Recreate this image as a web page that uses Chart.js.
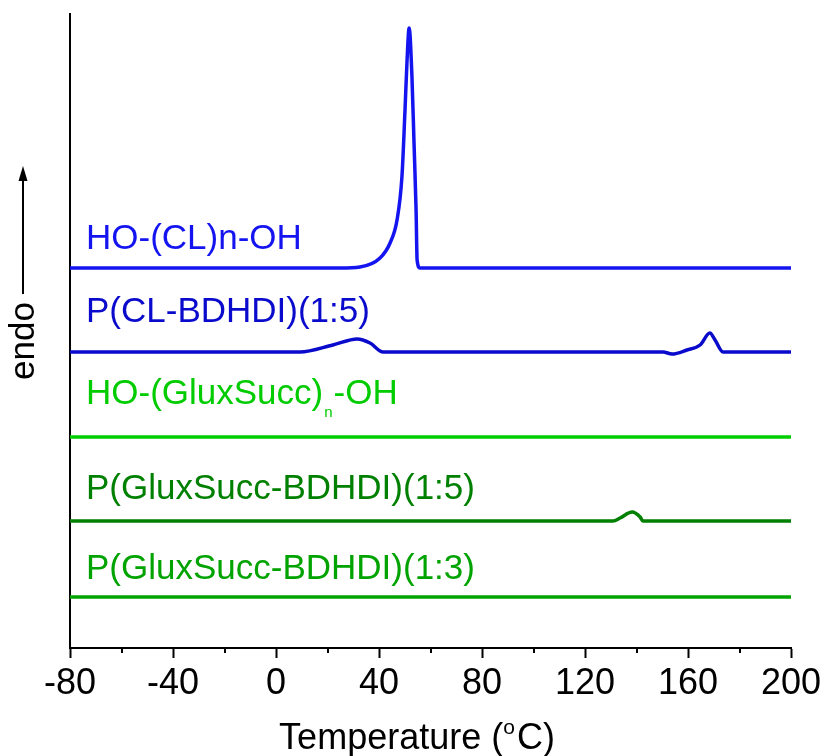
<!DOCTYPE html>
<html>
<head>
<meta charset="utf-8">
<script src="https://cdn.jsdelivr.net/npm/chart.js@4/dist/chart.umd.min.js"></script>
<style>
  html, body { margin: 0; padding: 0; background: #fff; }
  #wrap { width: 821px; height: 756px; }
</style>
</head>
<body>
<div id="wrap"><canvas id="dscChart" width="821" height="756"></canvas></div>
<script>
// temperatures (°C) and stacked heat flow (arbitrary units, offset per curve)
const tempCL = [-80, 25, 32.6, 40.4, 44.3, 47.0, 48.9, 50.1, 50.9, 51.7, 52.8, 53.6, 54.4, 54.8, 55.9, 200];
const heatCL = [380, 380, 381, 390, 405, 428, 471, 538, 588, 620, 571, 505, 438, 388, 380, 380];

const tempCLBD = [-80, 9.3, 22.1, 31.5, 36.5, 41.6, 150.3, 153.8, 159.6, 164.7, 168.5, 170.5, 173.6, 200];
const heatCLBD = [296, 296, 303, 309, 305, 296, 296, 294, 298, 303, 315, 308, 296, 296];

const tempGS = [-80, 60, 200];
const heatGS = [211, 211, 211];

const tempGSBD5 = [-80, 130.9, 133.6, 138.3, 141.4, 142.5, 200];
const heatGSBD5 = [127, 127, 130, 136, 131, 127, 127];

const tempGSBD3 = [-80, 60, 200];
const heatGSBD3 = [51, 51, 51];

const xTicks = [-80, -40, 0, 40, 80, 120, 160, 200];

function toPoints(xs, ys) {
    return xs.map(function(x, i) { return { x: x, y: ys[i] }; });
}

function lineSet(label, xs, ys, color) {
    return {
        label: label,
        data: toPoints(xs, ys),
        borderColor: color,
        borderWidth: 3.5,
        pointRadius: 0,
        cubicInterpolationMode: 'monotone',
        fill: false
    };
}

const narrow = '"Liberation Sans Narrow", "Liberation Sans", Arial, sans-serif';
const sans = '"Liberation Sans", Arial, sans-serif';

// curve labels, superscript/subscript text, minor ticks and the endo arrow
const annotations = {
    id: 'annotations',
    afterDraw: function(chart) {
        const ctx = chart.ctx;
        const xs = chart.scales.x;
        const area = chart.chartArea;
        ctx.save();

        // minor ticks
        ctx.strokeStyle = '#000';
        ctx.lineWidth = 2;
        for (let v = -60; v < 200; v += 40) {
            const px = Math.round(xs.getPixelForValue(v));
            ctx.beginPath();
            ctx.moveTo(px, area.bottom);
            ctx.lineTo(px, area.bottom + 5);
            ctx.stroke();
        }

        const lx = area.left + 16;
        ctx.textBaseline = 'alphabetic';
        ctx.textAlign = 'left';
        const lf = '35px ' + sans;
        ctx.font = lf;

        ctx.fillStyle = '#1414f0';
        ctx.fillText('HO-(CL)n-OH', lx, 249);

        ctx.fillStyle = '#0a0acc';
        ctx.fillText('P(CL-BDHDI)(1:5)', lx, 322);

        ctx.fillStyle = '#00cc00';
        let t = 'HO-(GluxSucc)';
        ctx.fillText(t, lx, 404);
        let w = ctx.measureText(t).width;
        ctx.font = '15px ' + sans;
        ctx.fillText('n', lx + w + 1, 417);
        let wn = ctx.measureText('n').width;
        ctx.font = lf;
        ctx.fillText('-OH', lx + w + wn + 2, 404);

        ctx.fillStyle = '#008000';
        ctx.fillText('P(GluxSucc-BDHDI)(1:5)', lx, 499);

        ctx.fillStyle = '#00a300';
        ctx.fillText('P(GluxSucc-BDHDI)(1:3)', lx, 579);

        // x-axis title with superscript o
        ctx.fillStyle = '#000';
        const mainFont = '36px ' + narrow;
        const supFont = '21px ' + narrow;
        ctx.font = mainFont;
        const p1 = 'Temperature (';
        const p2 = 'C)';
        const w1 = ctx.measureText(p1).width;
        const w2 = ctx.measureText(p2).width;
        ctx.font = supFont;
        const ws = ctx.measureText('o').width;
        const total = w1 + ws + w2 + 2;
        const cx = 417;
        let sx = cx - total / 2;
        const by = 749;
        ctx.font = mainFont;
        ctx.fillText(p1, sx, by);
        ctx.font = supFont;
        ctx.fillText('o', sx + w1, by - 15);
        ctx.font = mainFont;
        ctx.fillText(p2, sx + w1 + ws + 2, by);

        // endo label and arrow
        ctx.save();
        ctx.translate(34, 380);
        ctx.rotate(-Math.PI / 2);
        ctx.font = '35px ' + sans;
        ctx.fillText('endo', 0, 0);
        ctx.restore();

        ctx.beginPath();
        ctx.moveTo(23, 294);
        ctx.lineTo(23, 178);
        ctx.lineWidth = 2;
        ctx.stroke();
        ctx.beginPath();
        ctx.moveTo(23, 166);
        ctx.lineTo(18.5, 181);
        ctx.lineTo(27.5, 181);
        ctx.closePath();
        ctx.fill();

        ctx.restore();
    }
};

const ctxDsc = document.getElementById('dscChart').getContext('2d');
new Chart(ctxDsc, {
    type: 'line',
    data: {
        datasets: [
            lineSet('HO-(CL)n-OH', tempCL, heatCL, '#1414f0'),
            lineSet('P(CL-BDHDI)(1:5)', tempCLBD, heatCLBD, '#0a0acc'),
            lineSet('HO-(GluxSucc)n-OH', tempGS, heatGS, '#00cc00'),
            lineSet('P(GluxSucc-BDHDI)(1:5)', tempGSBD5, heatGSBD5, '#008000'),
            lineSet('P(GluxSucc-BDHDI)(1:3)', tempGSBD3, heatGSBD3, '#00a300')
        ]
    },
    options: {
        responsive: false,
        animation: false,
        layout: { padding: { top: 14, right: 30, left: 0, bottom: 0 } },
        plugins: {
            legend: { display: false },
            tooltip: { enabled: false }
        },
        scales: {
            x: {
                type: 'linear',
                min: -80,
                max: 200,
                afterBuildTicks: function(scale) {
                    scale.ticks = xTicks.map(function(v) { return { value: v }; });
                },
                afterFit: function(scale) {
                    scale.height = 108;
                    scale.paddingRight = 0;
                    scale.paddingLeft = 0;
                },
                ticks: {
                    color: '#000',
                    font: { family: narrow, size: 36 },
                    padding: 4,
                    maxRotation: 0,
                    autoSkip: false
                },
                grid: {
                    drawOnChartArea: false,
                    drawTicks: true,
                    tickLength: 10,
                    tickWidth: 2,
                    tickColor: '#000'
                },
                border: { display: true, color: '#000', width: 2 }
            },
            y: {
                type: 'linear',
                min: 0,
                max: 634,
                afterFit: function(scale) { scale.width = 70; },
                ticks: { display: false },
                grid: { drawOnChartArea: false, drawTicks: false },
                border: { display: true, color: '#000', width: 2 }
            }
        }
    },
    plugins: [annotations]
});
</script>
</body>
</html>
